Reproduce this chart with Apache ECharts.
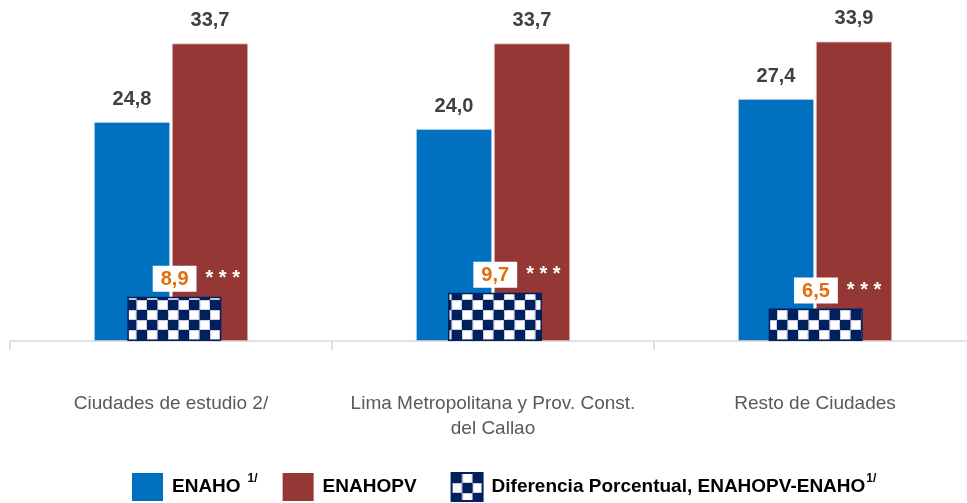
<!DOCTYPE html>
<html><head><meta charset="utf-8">
<script src="https://cdn.jsdelivr.net/npm/echarts@6/dist/echarts.min.js"></script>
<style>html,body{margin:0;padding:0;background:#fff;overflow:hidden}#c{width:976px;height:503px}</style>
</head><body><div id="c"></div>
<script>
const categories = ['Ciudades de estudio 2/', 'Lima Metropolitana y Prov. Const.\ndel Callao', 'Resto de Ciudades'];
const enaho = [24.8, 24.0, 27.4];
const enahopv = [33.7, 33.7, 33.9];
const diferencia = [8.9, 9.7, 6.5];
const significance = ['* * *', '* * *', '* * *'];

const FONT = '"Liberation Sans", Arial, Helvetica, sans-serif';
const fmt = v => v.toFixed(1).replace('.', ',');

// checker pattern
const pc = document.createElement('canvas');
pc.width = 21; pc.height = 20;
const g = pc.getContext('2d');
g.fillStyle = '#ffffff'; g.fillRect(0, 0, 21, 20);
g.fillStyle = '#002060';
g.fillRect(0, 0, 10.5, 10); g.fillRect(10.5, 10, 10.5, 10);
g.strokeStyle = 'rgba(160,160,180,0.55)'; g.lineWidth = 1;
g.strokeRect(11, 0.5, 9.5, 9); g.strokeRect(0.5, 10.5, 9.5, 9);

const chart = echarts.init(document.getElementById('c'), null, {renderer: 'canvas'});
chart.setOption({
  animation: false,
  grid: [
    {left: 10, top: 32, width: 966, bottom: 162, containLabel: false},
    {left: 14, top: 32, width: 966, bottom: 162, containLabel: false}
  ],
  legend: {
    left: 132, top: 472, padding: 0, itemWidth: 31, itemHeight: 28, itemGap: 25,
    icon: 'rect',
    data: [
      {name: 'ENAHO', itemStyle: {borderWidth: 0}},
      {name: 'ENAHOPV', itemStyle: {borderWidth: 0}},
      {name: 'Diferencia'}
    ],
    formatter: function (n) {
      if (n === 'ENAHO') return '{b|ENAHO}{s|1/}';
      if (n === 'ENAHOPV') return '{bp|ENAHOPV}';
      return '{b|Diferencia Porcentual, ENAHOPV-ENAHO}{s2|1/}';
    },
    textStyle: {
      fontFamily: FONT,
      rich: {
        b: {fontFamily: FONT, fontSize: 19, fontWeight: 'bold', color: '#000', lineHeight: 28, padding: [0, 0, 0, 4]},
        bp: {fontFamily: FONT, fontSize: 19, fontWeight: 'bold', color: '#000', lineHeight: 28, padding: [0, 9, 0, 4]},
        s: {fontFamily: FONT, fontSize: 12, fontWeight: 'bold', color: '#000', lineHeight: 28, verticalAlign: 'top', padding: [0, 0, 12, 7]},
        s2: {fontFamily: FONT, fontSize: 12, fontWeight: 'bold', color: '#000', lineHeight: 28, verticalAlign: 'top', padding: [0, 0, 12, 1]}
      }
    }
  },
  xAxis: [{
    type: 'category', data: categories, gridIndex: 0,
    axisLine: {lineStyle: {color: '#d9d9d9', width: 1.5}},
    axisTick: {show: true, length: 9, lineStyle: {color: '#d9d9d9', width: 1.5}},
    axisLabel: {margin: 50, fontFamily: FONT, fontSize: 19, color: '#595959', lineHeight: 25, interval: 0}
  }, {
    type: 'category', data: categories, gridIndex: 1, show: false
  }],
  yAxis: [
    {type: 'value', min: 0, max: 35, show: false, gridIndex: 0},
    {type: 'value', min: 0, max: 62, show: false, gridIndex: 1}
  ],
  series: [{
    name: 'ENAHO', type: 'bar', data: enaho, barWidth: 76, barGap: '2.6%',
    itemStyle: {color: '#0070C0', borderColor: '#b8cfe6', borderWidth: 0.8},
    label: {show: true, position: 'top', distance: 13, formatter: p => fmt(p.value),
      fontFamily: FONT, fontSize: 20, fontWeight: 'bold', color: '#404040'}
  }, {
    name: 'ENAHOPV', type: 'bar', data: enahopv, barWidth: 76,
    itemStyle: {color: '#953735', borderColor: '#d9b3b2', borderWidth: 0.8},
    label: {show: true, position: 'top', distance: 13, formatter: p => fmt(p.value),
      fontFamily: FONT, fontSize: 20, fontWeight: 'bold', color: '#404040'}
  }, {
    name: 'Diferencia', type: 'bar', data: diferencia, xAxisIndex: 1, yAxisIndex: 1, barWidth: 94,
    itemStyle: {color: {image: pc, repeat: 'repeat'}, borderColor: '#002060', borderWidth: 1.5},
    label: {show: true, position: 'top', distance: 8, offset: [22, 0],
      formatter: p => '{v|' + fmt(p.value) + '}{s|' + significance[p.dataIndex] + '}',
      rich: {
        v: {fontFamily: FONT, fontSize: 20, fontWeight: 'bold', color: '#E46C0A', backgroundColor: '#ffffff', lineHeight: 20, padding: [4, 8, 2, 8]},
        s: {fontFamily: FONT, fontSize: 20, fontWeight: 'bold', color: '#ffffff', lineHeight: 20, padding: [0, 0, 0, 9]}
      }}
  }]
});
</script></body></html>
